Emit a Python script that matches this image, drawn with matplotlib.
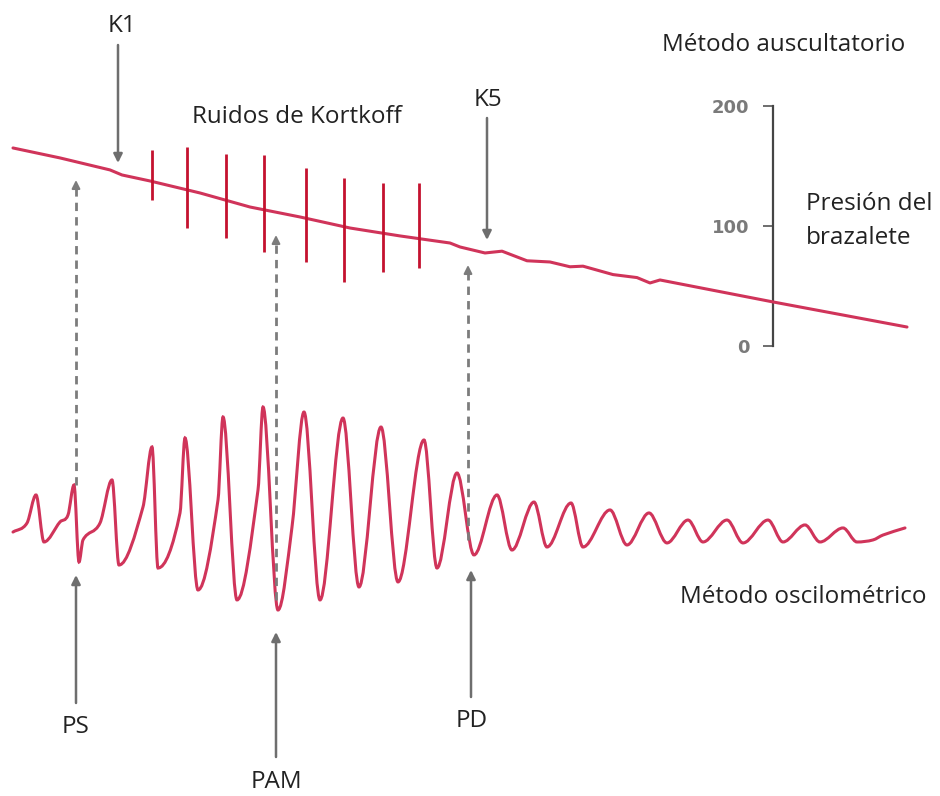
import numpy as np
import matplotlib.pyplot as plt
from matplotlib.path import Path
from matplotlib.patches import PathPatch

plt.rcParams['font.family'] = ['Open Sans', 'DejaVu Sans']

# cuff pressure (mmHg) along the time axis
cuff_t = [13, 60, 110, 122, 150, 200, 250, 300, 350, 400, 450, 460, 485, 502,
          527, 550, 570, 583, 613, 637, 650, 660, 773, 907]
cuff_p = [165, 156.7, 146.7, 142.5, 137.5, 127.5, 115.8, 107.5, 98.3, 91.7,
          85.8, 82.5, 77.5, 79, 71, 70, 66, 66.5, 59.5, 57, 52.5, 55,
          36.7, 15.8]

# Korotkoff sounds: time, top and bottom of each spike (mmHg)
kor_t = [152, 187, 226, 264, 306, 344, 383, 419]
kor_top = [163, 166, 160, 159, 148, 140, 136, 136]
kor_bot = [122, 98, 90, 78, 70, 53, 62, 65]

# oscillometric signal: key points (time, amplitude)
osc_t = [13, 27, 36, 44, 60, 68, 74, 79, 83, 100, 112, 119, 143, 152, 158,
         180, 185, 198, 218, 223, 237, 258, 263, 278, 292, 304, 320, 343,
         359, 381, 398, 424, 437, 457, 474, 497, 512, 534, 547, 571, 583,
         610, 627, 649, 667, 688, 703, 727, 743, 768, 783, 805, 820, 843,
         857, 873, 883, 905]
osc_a = [10.8, 18.3, 41.7, 2.5, 19.2, 25, 50, -14.2, 4.2, 18.3, 54.2, -16.7,
         31.7, 81.7, -19.2, 26.7, 89.2, -37.5, 37.5, 106.7, -45.8, 45.8, 115,
         -54.2, 15, 110.8, -45.8, 105.8, -35, 98.3, -30.8, 87.5, -19.2, 60,
         -8.3, 41.7, -4.2, 35.8, -1.7, 35, -1.7, 29.2, 0, 26.7, 1.7, 20.8,
         2.5, 20.8, 1.7, 20.8, 2.5, 16.7, 2.5, 14.2, 2.5, 4.2, 8.3, 14.2]

scale_ticks = [0, 100, 200]

red = '#d0345a'
spike_red = '#c4122f'
grey = '#6e6e6e'


def smooth_path(xs, ys):
    # cubic bezier through key points, flat at peaks and troughs
    xs = np.asarray(xs, float)
    ys = np.asarray(ys, float)
    n = len(xs)
    m = np.zeros(n)
    for i in range(1, n - 1):
        if (ys[i] - ys[i - 1]) * (ys[i + 1] - ys[i]) > 0:
            m[i] = (ys[i + 1] - ys[i - 1]) / (xs[i + 1] - xs[i - 1])
    m[0] = (ys[1] - ys[0]) / (xs[1] - xs[0])
    m[-1] = (ys[-1] - ys[-2]) / (xs[-1] - xs[-2])
    verts = [(xs[0], ys[0])]
    codes = [Path.MOVETO]
    for i in range(n - 1):
        d = (xs[i + 1] - xs[i]) / 3
        verts += [(xs[i] + d, ys[i] + m[i] * d),
                  (xs[i + 1] - d, ys[i + 1] - m[i + 1] * d),
                  (xs[i + 1], ys[i + 1])]
        codes += [Path.CURVE4] * 3
    return Path(verts, codes)


fig = plt.figure(figsize=(9.4, 7.96), dpi=100)

# pressure axes (top trace + scale bar)
ax_p = fig.add_axes([0, 0, 1, 1])
ax_p.patch.set_visible(False)
ax_p.set_xlim(0, 940)
ax_p.set_ylim(-375, 288.3)
for s in ['top', 'right', 'bottom']:
    ax_p.spines[s].set_visible(False)
ax_p.spines['left'].set_position(('data', 773))
ax_p.spines['left'].set_bounds(0, 200)
ax_p.spines['left'].set_color('#454545')
ax_p.spines['left'].set_linewidth(1.6)
ax_p.set_xticks([])
ax_p.set_yticks(scale_ticks)
ax_p.tick_params(axis='y', direction='out', length=7, width=1.2, color='#555555',
                 labelcolor='#7a7a7a', labelsize=13, pad=10)
for lbl in ax_p.get_yticklabels():
    lbl.set_fontweight('bold')
    lbl.set_family('DejaVu Sans')

ax_p.plot(cuff_t, cuff_p, color=red, lw=2.2, solid_capstyle='round', zorder=3)
ax_p.vlines(kor_t, kor_bot, kor_top, color=spike_red, lw=2.0, zorder=4)

# oscillometric axes
ax_o = fig.add_axes([0, 0, 1, 1])
ax_o.patch.set_visible(False)
ax_o.set_xlim(0, 940)
ax_o.set_ylim(-209.2, 454.2)
ax_o.axis('off')
ax_o.add_patch(PathPatch(smooth_path(osc_t, osc_a), facecolor='none',
                         edgecolor=red, lw=2.2, capstyle='round', zorder=3))

# annotation layer (figure pixels)
ax = fig.add_axes([0, 0, 1, 1])
ax.patch.set_visible(False)
ax.set_xlim(0, 940)
ax.set_ylim(796, 0)
ax.axis('off')


def arrow(x, y0, y1):
    ax.annotate('', xy=(x, y1), xytext=(x, y0),
                arrowprops=dict(arrowstyle='-|>', color=grey, lw=1.8,
                                mutation_scale=13, shrinkA=0, shrinkB=0))


def dashed_arrow(x, y0, y1):
    ax.plot([x, x], [y0, y1 + 8], ls=(0, (3, 2.2)), lw=2, color='#7c7c7c')
    ax.annotate('', xy=(x, y1), xytext=(x, y1 + 9),
                arrowprops=dict(arrowstyle='-|>', color='#7c7c7c', lw=1.5,
                                mutation_scale=12, shrinkA=0, shrinkB=0))


arrow(118, 45, 163)
arrow(487, 118, 240)
arrow(76, 703, 575)
arrow(276, 757, 632)
arrow(471, 697, 570)
dashed_arrow(76, 485, 180)
dashed_arrow(276, 600, 235)
dashed_arrow(468, 540, 265)

tkw = dict(fontsize=17.5, color='#222222')
ax.text(122, 26, 'K1', ha='center', va='center', **tkw)
ax.text(297, 117, 'Ruidos de Kortkoff', ha='center', va='center', **tkw)
ax.text(488, 100, 'K5', ha='center', va='center', **tkw)
ax.text(784, 45, 'Método auscultatorio', ha='center', va='center', **tkw)
ax.text(806, 204, 'Presión del', ha='left', va='center', **tkw)
ax.text(806, 238, 'brazalete', ha='left', va='center', **tkw)
ax.text(680, 597, 'Método oscilométrico', ha='left', va='center', **tkw)
ax.text(76, 727, 'PS', ha='center', va='center', **tkw)
ax.text(276, 782, 'PAM', ha='center', va='center', **tkw)
ax.text(472, 721, 'PD', ha='center', va='center', **tkw)

plt.savefig('out.png', dpi=100)
